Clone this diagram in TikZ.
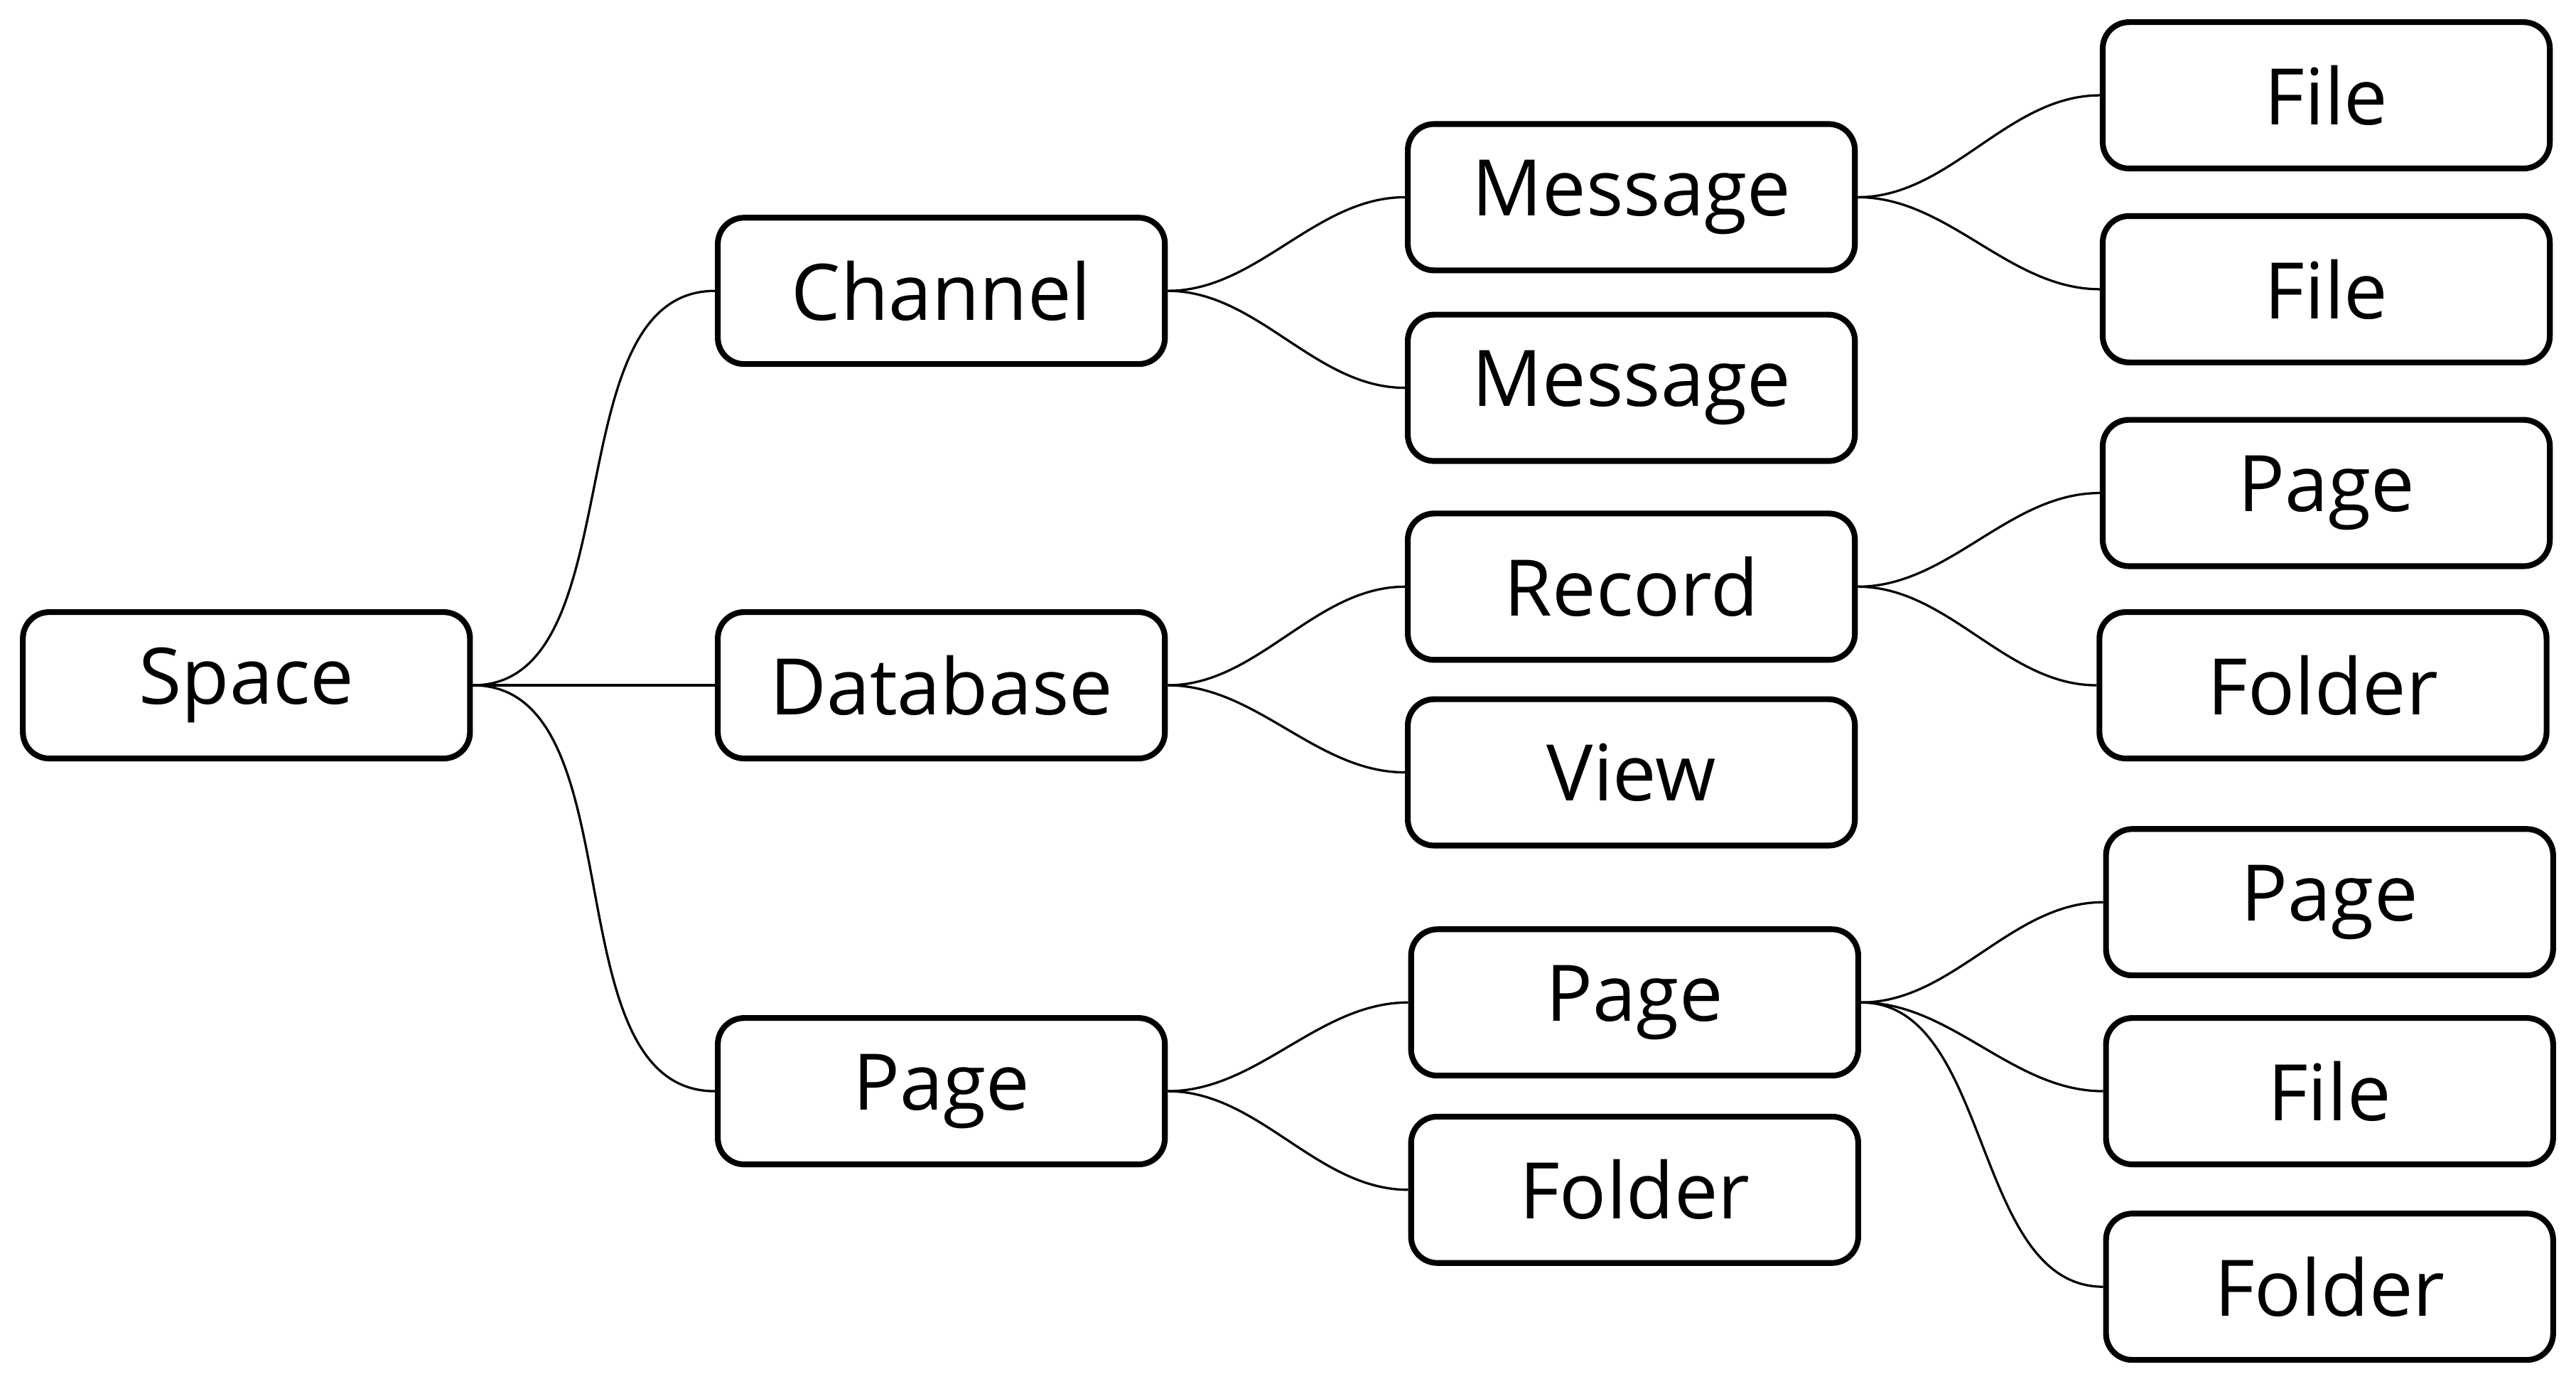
\documentclass[tikz,border=0pt]{standalone}
\usepackage{fontspec}
\setmainfont{Open Sans}
\usetikzlibrary{positioning}
\tikzset{
  box/.style={draw,line width=1pt,rounded corners=0.16cm,minimum width=2.72cm,minimum height=0.89cm,font=\fontsize{13.5}{16}\selectfont,inner sep=0pt},
  link/.style={line width=0.9pt,out=0,in=180,looseness=0.9}
}
\begin{document}
\begin{tikzpicture}[x=0.01cm,y=-0.01cm]
\useasboundingbox (0,0) rectangle (1568,842);
% root and first level
\node[box] (space) at (150,417) {Space};
\node[box] (chan) at (573,177) {Channel};
\node[box] (db) at (573,417) {Database};
\node[box] (pg) at (573,664) {Page};
% second level
\node[box] (msgA) at (993,120) {Message};
\node[box] (msgB) at (993,236) {Message};
\node[box] (rec) at (993,357) {Record};
\node[box] (view) at (993,470) {View};
\node[box] (pgA) at (995,610) {Page};
\node[box] (fldA) at (995,724) {Folder};
% third level
\node[box] (fileA) at (1416,58) {File};
\node[box] (fileB) at (1416,176) {File};
\node[box] (pgB) at (1416,300) {Page};
\node[box] (fldB) at (1414,417) {Folder};
\node[box] (pgC) at (1418,549) {Page};
\node[box] (fileC) at (1418,664) {File};
\node[box] (fldC) at (1418,783) {Folder};

\draw (space.east) to[link] (chan.west);
\draw (space.east) -- (db.west);
\draw (space.east) to[link] (pg.west);
\foreach \a/\b in {chan/msgA,chan/msgB,db/rec,db/view,pg/pgA,pg/fldA,
  msgA/fileA,msgA/fileB,rec/pgB,rec/fldB,pgA/pgC,pgA/fileC,pgA/fldC}
  \draw (\a.east) to[link] (\b.west);
\end{tikzpicture}
\end{document}
